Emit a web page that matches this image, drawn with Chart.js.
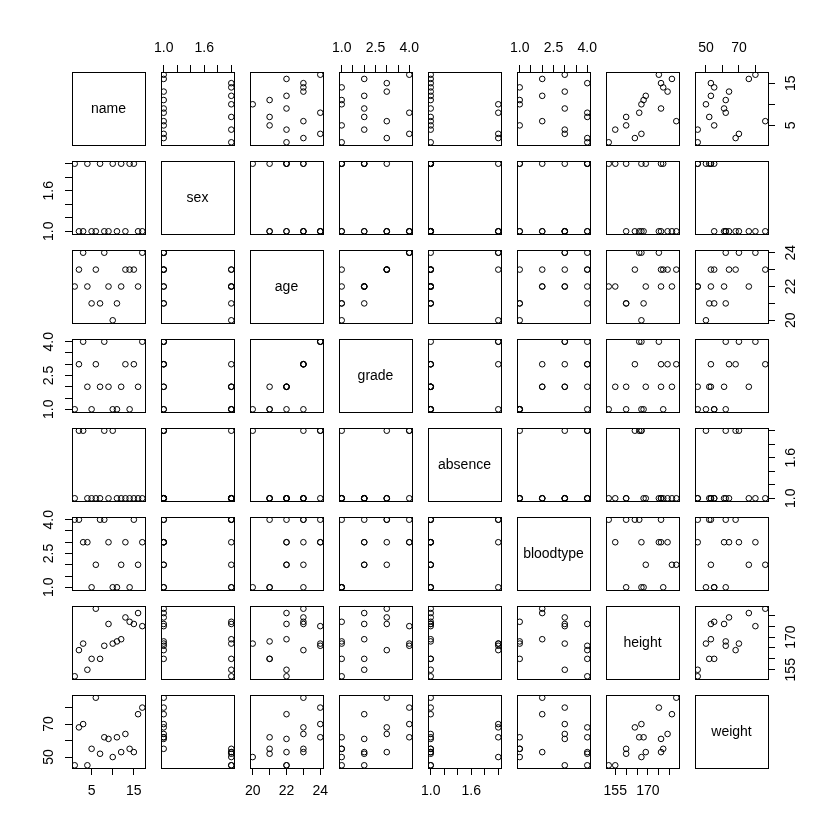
<!DOCTYPE html>
<html>
<head>
<meta charset="utf-8">
<script src="https://cdn.jsdelivr.net/npm/chart.js@4.4.0/dist/chart.umd.min.js"></script>
<style>
html, body { margin: 0; padding: 0; background: #fff; }
#wrap { position: relative; width: 840px; height: 840px; overflow: hidden; background: #fff; }
#wrap canvas { position: absolute; }
</style>
</head>
<body>
<div id="wrap"></div>
<script>
// variable names on the diagonal
const variables = ["name", "sex", "age", "grade", "absence", "bloodtype", "height", "weight"];

// one value per student (name is the factor code 1..17)
const nameNo    = [1, 2, 3, 4, 5, 6, 7, 8, 9, 10, 11, 12, 13, 14, 15, 16, 17];
const sex       = [2, 1, 1, 2, 1, 1, 2, 1, 1, 2, 1, 2, 1, 2, 2, 1, 1];
const age       = [22, 23, 24, 22, 21, 23, 21, 24, 22, 20, 21, 22, 23, 23, 23, 22, 24];
const grade     = [1, 3, 4, 2, 1, 3, 2, 4, 2, 1, 1, 2, 3, 1, 3, 2, 4];
const absence   = [1, 2, 2, 1, 1, 1, 1, 2, 1, 2, 1, 1, 1, 1, 1, 1, 1];
const bloodtype = [4, 4, 3, 3, 1, 2, 4, 4, 3, 1, 1, 2, 3, 1, 4, 2, 3];
const height    = [152, 164, 167, 155, 160, 183, 160, 166, 176, 167, 168, 169, 179, 177, 176, 181, 175];
const weight    = [45, 68, 70, 45, 55, 86, 52, 62, 61, 50, 62, 53, 64, 55, 53, 76, 80];

// axis ticks and the labels R kept (others dropped for overlap)
const nameTicks = [5, 10, 15];
const nameTickLabels = ["5", "", "15"];
const binTicks = [1.0, 1.2, 1.4, 1.6, 1.8, 2.0];
const binTickLabels = ["1.0", "", "", "1.6", "", ""];
const ageTicks = [20, 21, 22, 23, 24];
const ageTickLabels = ["20", "", "22", "", "24"];
const levelTicks = [1.0, 1.5, 2.0, 2.5, 3.0, 3.5, 4.0];
const levelTickLabels = ["1.0", "", "", "2.5", "", "", "4.0"];
const heightTicks = [155, 160, 165, 170, 175, 180];
const heightTickLabels = ["155", "", "", "170", "", ""];
const weightTicks = [50, 60, 70, 80];
const weightTickLabels = ["50", "", "70", ""];

const columns = [nameNo, sex, age, grade, absence, bloodtype, height, weight];
const axisTicks = [nameTicks, binTicks, ageTicks, levelTicks, binTicks, levelTicks, heightTicks, weightTicks];
const axisLabels = [nameTickLabels, binTickLabels, ageTickLabels, levelTickLabels, binTickLabels, levelTickLabels, heightTickLabels, weightTickLabels];

const LEFT0 = 72, STEP = 89, SIZE = 73, M = 40;
const FONT = "'Liberation Sans', Arial, sans-serif";
const wrap = document.getElementById("wrap");
const measure = document.createElement("canvas").getContext("2d");
measure.font = "14px " + FONT;

// text in the middle of the diagonal panels
const panelLabel = {
    id: "panelLabel",
    afterDraw(chart, args, opts) {
        if (!opts.text) return;
        const {ctx, chartArea: a} = chart;
        ctx.save();
        ctx.font = "14px " + FONT;
        ctx.fillStyle = "#000";
        ctx.textAlign = "center";
        ctx.textBaseline = "middle";
        ctx.fillText(opts.text, (a.left + a.right) / 2, (a.top + a.bottom) / 2 + 1);
        ctx.restore();
    }
};

// data range plus 4% each side, like R
function range(values){
    const lo = Math.min(...values), hi = Math.max(...values);
    const pad = (hi - lo) * 0.04;
    return [lo - pad, hi + pad];
}

function makeScale(k, position, show){
    const [min, max] = range(columns[k]);
    const vertical = position === "left" || position === "right";
    const tickValues = show ? axisTicks[k] : [];
    const labels = axisLabels[k];
    const widest = Math.max(...labels.map(t => measure.measureText(t).width));
    return {
        type: "linear",
        position: position,
        min: min,
        max: max,
        afterBuildTicks: s => { s.ticks = tickValues.map(v => ({value: v})); },
        afterFit: s => { if (vertical) s.width = M; else s.height = M; },
        grid: {display: show, drawOnChartArea: false, drawTicks: true, tickLength: 7, color: "#000", lineWidth: 1},
        border: {display: true, color: "#000", width: 1},
        ticks: {
            display: show,
            autoSkip: false,
            color: "#000",
            font: {family: FONT, size: 14},
            padding: vertical ? 16 - widest / 2 : 8,
            minRotation: vertical ? 90 : 0,
            maxRotation: vertical ? 90 : 0,
            crossAlign: vertical ? "center" : "near",
            callback: (v, i) => labels[i]
        }
    };
}

for (let i = 0; i < 8; i++) {
    for (let j = 0; j < 8; j++) {
        const canvas = document.createElement("canvas");
        canvas.width = SIZE + 2 * M;
        canvas.height = SIZE + 2 * M;
        canvas.style.left = (LEFT0 + j * STEP - M) + "px";
        canvas.style.top = (LEFT0 + i * STEP - M) + "px";
        wrap.appendChild(canvas);
        const diag = i === j;
        const points = diag ? [] : columns[j].map((x, r) => ({x: x, y: columns[i][r]}));
        new Chart(canvas, {
            type: "scatter",
            data: {
                datasets: [{
                    data: points,
                    xAxisID: "x",
                    yAxisID: "y",
                    pointStyle: "circle",
                    pointRadius: 2.8,
                    borderColor: "#000",
                    backgroundColor: "rgba(0,0,0,0)",
                    borderWidth: 1,
                    clip: 0
                }]
            },
            options: {
                responsive: false,
                animation: false,
                events: [],
                layout: {padding: 0, autoPadding: false},
                plugins: {
                    legend: {display: false},
                    tooltip: {enabled: false},
                    panelLabel: {text: diag ? variables[i] : ""}
                },
                scales: {
                    x: makeScale(j, "bottom", i === 7 && j % 2 === 0),
                    x2: makeScale(j, "top", i === 0 && j % 2 === 1),
                    y: makeScale(i, "left", j === 0 && i % 2 === 1),
                    y2: makeScale(i, "right", j === 7 && i % 2 === 0)
                }
            },
            plugins: [panelLabel]
        });
    }
}
</script>
</body>
</html>
